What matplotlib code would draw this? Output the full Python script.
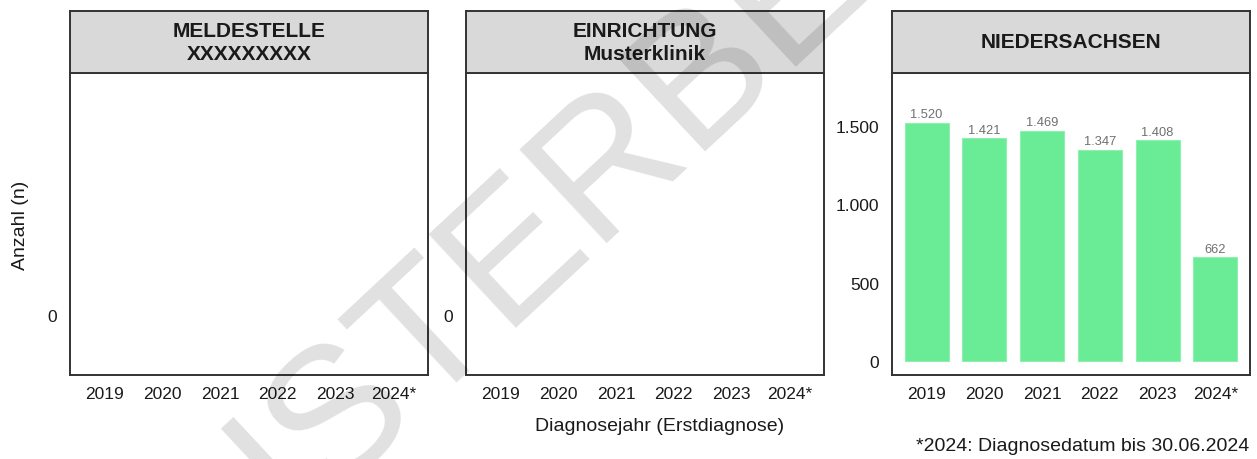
import matplotlib
matplotlib.use("Agg")
import matplotlib.pyplot as plt

plt.rcParams['font.family'] = ['Liberation Sans', 'DejaVu Sans']

years = ["2019", "2020", "2021", "2022", "2023", "2024*"]
panel_titles = ["MELDESTELLE\nXXXXXXXXX", "EINRICHTUNG\nMusterklinik", "NIEDERSACHSEN"]
niedersachsen = [1520, 1421, 1469, 1347, 1408, 662]
bar_labels = ["1.520", "1.421", "1.469", "1.347", "1.408", "662"]
y_ticks_ns = [0, 500, 1000, 1500]
y_ticklabels_ns = ["0", "500", "1.000", "1.500"]

W, H = 1257, 460
fig = plt.figure(figsize=(W / 100, H / 100), dpi=100)

lefts = [70, 466, 892]
pw = 358
plot_top, plot_bot, strip_top = 74, 376, 12
bar_color = "#6aeb96"
edge_dark = "#333333"
txt = "#1a1a1a"

axes = []
for i, lx in enumerate(lefts):
    ax = fig.add_axes([lx / W, (H - plot_bot) / H, pw / W, (plot_top - plot_top + plot_bot - plot_top) / H])
    axes.append(ax)
    ax.set_xlim(-0.6, 5.6)
    ax.set_xticks(range(len(years)))
    ax.set_xticklabels(years)
    for s in ax.spines.values():
        s.set_color(edge_dark)
        s.set_linewidth(1.4)
    ax.tick_params(axis="x", length=0, labelsize=12.5, pad=8, colors=txt)
    ax.tick_params(axis="y", length=0, labelsize=12.5, pad=9, colors=txt)
    sax = fig.add_axes([lx / W, (H - plot_top) / H, pw / W, (plot_top - strip_top) / H])
    sax.set_xticks([]); sax.set_yticks([])
    sax.set_facecolor("#d9d9d9")
    for s in sax.spines.values():
        s.set_color(edge_dark)
        s.set_linewidth(1.4)
    sax.text(0.5, 0.5, panel_titles[i], ha="center", va="center", fontsize=15,
             fontweight="bold", color=txt, linespacing=1.25, transform=sax.transAxes)

for ax in axes[:2]:
    ax.set_ylim(-1, 4.03)
    ax.set_yticks([0])
    ax.set_yticklabels(["0"])

ax3 = axes[2]
ax3.set_ylim(-87.5, 1837.5)
ax3.bar(range(len(years)), niedersachsen, width=0.76, color=bar_color,
        edgecolor="#8ff0b0", linewidth=0.8)
for x, v, lab in zip(range(len(years)), niedersachsen, bar_labels):
    ax3.annotate(lab, (x, v), xytext=(0, 2), textcoords="offset points",
                 ha="center", va="bottom", fontsize=9.3, color="#707070")
ax3.set_yticks(y_ticks_ns)
ax3.set_yticklabels(y_ticklabels_ns)

fig.text(21 / W, 1 - 225 / H, "Anzahl (n)", rotation=90, ha="center", va="center",
         fontsize=14, color=txt)
fig.text(660 / W, 1 - 427 / H, "Diagnosejahr (Erstdiagnose)", ha="center", va="center",
         fontsize=14, color=txt)
fig.text(1249 / W, 1 - 447 / H, "*2024: Diagnosedatum bis 30.06.2024", ha="right",
         va="center", fontsize=14, color=txt)

# watermark
fig.text(656 / W, 1 - 91 / H, "MUSTERBERICHT", rotation=43, ha="center", va="center_baseline",
         rotation_mode="anchor", fontsize=134, color="black", alpha=0.12, zorder=10)

fig.savefig("out.png", dpi=100)
